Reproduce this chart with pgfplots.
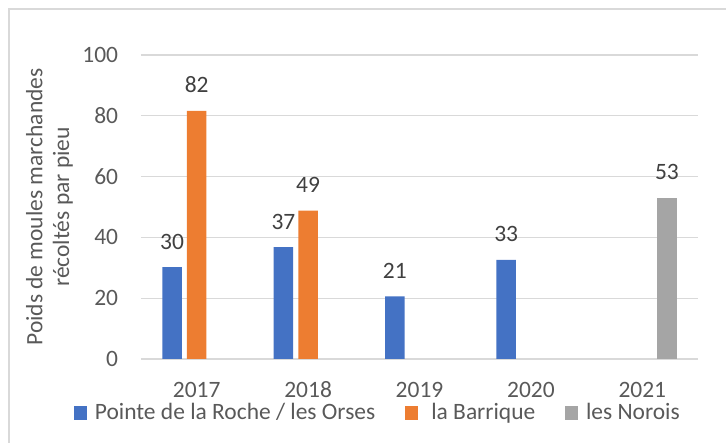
\documentclass[border=0pt]{standalone}
\usepackage{fontspec}
\setmainfont{Carlito}
\usepackage{pgfplots}
\pgfplotsset{compat=1.18}
\definecolor{cblue}{HTML}{4472C4}
\definecolor{corange}{HTML}{ED7D31}
\definecolor{cgray}{HTML}{A5A5A5}
\definecolor{txt}{HTML}{595959}
\definecolor{lbl}{HTML}{404040}
\definecolor{gridc}{HTML}{D9D9D9}
\newcommand\cf{\fontsize{17.6}{20}\selectfont}
\begin{document}
\cf
\begin{tikzpicture}
\useasboundingbox (-105.75pt,-63pt) rectangle (438.75pt,269.25pt);
\draw[gridc, line width=1pt] (-99pt,-100pt) rectangle (500pt,262.5pt);
\begin{axis}[
  at={(0,0)}, anchor=south west,
  scale only axis, width=417.75pt, height=228pt,
  xmin=-0.5, xmax=4.5, ymin=0, ymax=100,
  ybar,
  xtick={0,1,2,3,4}, xticklabels={2017,2018,2019,2020,2021},
  ytick={0,20,40,60,80,100},
  ymajorgrids, major grid style={draw=gridc, line width=1pt},
  axis line style={draw=none},
  tick style={draw=none}, major tick length=0pt,
  /pgf/number format/assume math mode=true,
  ticklabel style={font=\cf, text=txt, inner sep=0pt},
  yticklabel style={anchor=east, xshift=-17pt},
  xticklabel style={anchor=base, yshift=-29.25pt},
  ylabel={Poids de moules marchandes\\récoltés par pieu},
  ylabel style={at={(axis description cs:-0.1642,0.5)}, anchor=center, align=center, font=\cf, text=txt},
  nodes near coords={\pgfmathprintnumber[fixed,precision=0]{\pgfplotspointmeta}},
  every node near coord/.append style={font=\cf, text=lbl, anchor=base, yshift=13.5pt, inner sep=0pt},
  legend columns=-1,
  legend style={at={(0,0)}, anchor=west, xshift=-50.8pt, yshift=-40.5pt, draw=none, fill=none, inner sep=0pt, font=\cf, text=txt, nodes={inner sep=0pt}, /tikz/every odd column/.append style={column sep=6pt}, /tikz/every even column/.append style={column sep=22pt}},
  legend image code/.code={\fill[#1] (0pt,-5pt) rectangle (10pt,5pt);},
]
\addplot[fill=cblue, draw=none, bar width=14.6pt, bar shift=-18.5pt] coordinates {(0,30.2) (1,36.8) (2,20.6) (3,32.6)};
\addplot[fill=corange, draw=none, bar width=14.6pt, bar shift=0pt] coordinates {(0,81.6) (1,48.8)};
\addplot[fill=cgray, draw=none, bar width=14.6pt, bar shift=18.5pt] coordinates {(4,53.0)};
\legend{Pointe de la Roche / les Orses, \ la Barrique, les Norois}
\end{axis}
\end{tikzpicture}
\end{document}
